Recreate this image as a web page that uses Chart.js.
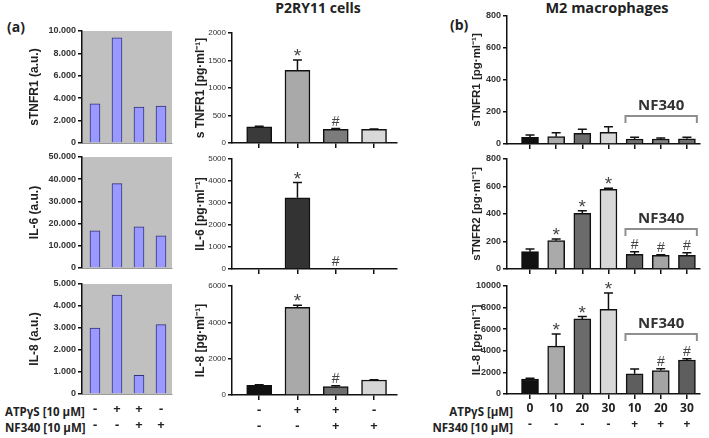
<!DOCTYPE html>
<html>
<head>
<meta charset="utf-8">
<script src="https://cdn.jsdelivr.net/npm/chart.js"></script>
<style>
body{margin:0;background:#fff;}
#fig{position:relative;width:709px;height:438px;overflow:hidden;font-family:"Open Sans",sans-serif;}
#fig canvas{position:absolute;}
.t{position:absolute;white-space:nowrap;font-weight:bold;color:#222;line-height:16px;}
</style>
</head>
<body>
<div id="fig">
  <div class="t" style="left:7px;top:19px;font-size:14px;">(a)</div>
  <div class="t" style="left:450px;top:17px;font-size:14px;">(b)</div>
  <div class="t" style="left:318px;top:0px;font-size:14px;transform:translateX(-50%);">P2RY11 cells</div>
  <div class="t" style="left:607px;top:0px;font-size:14.5px;transform:translateX(-50%);">M2 macrophages</div>
  <div class="t" style="left:5px;top:404px;font-size:11.5px;">ATPγS [10 µM]</div>
  <div class="t" style="left:5px;top:420px;font-size:11.5px;">NF340 [10 µM]</div>
  <div class="t" style="right:196px;top:404px;font-size:11.5px;">ATPγS [µM]</div>
  <div class="t" style="right:196px;top:420px;font-size:11.5px;">NF340 [10 µM]</div>
</div>

<script>
// (a) arbitrary units
const aTNFR1 = [3500, 9400, 3200, 3300];
const aIL6 = [16700, 38000, 18500, 14500];
const aIL8 = [3000, 4500, 850, 3150];
const atpSigns = ['-', '+', '+', '-'];
const nfSigns = ['-', '-', '+', '+'];

// P2RY11 cells
const pTNFR1 = [296, 1320, 250, 250];
const pTNFR1Err = [10, 190, 12, 6];
const pIL6 = [0, 3240, 0, 0];
const pIL6Err = [0, 690, 0, 0];
const pIL8 = [530, 4820, 460, 825];
const pIL8Err = [30, 120, 55, 20];
const pMarks = ['', '*', '#', ''];

// M2 macrophages
const mAtp = ['0', '10', '20', '30', '10', '20', '30'];
const mNf = ['-', '-', '-', '-', '+', '+', '+'];
const mTNFR1 = [42, 46, 67, 73, 31, 31, 33];
const mTNFR1Err = [14, 25, 25, 35, 11, 7, 9];
const mTNFR2 = [126, 206, 405, 580, 107, 100, 100];
const mTNFR2Err = [19, 12, 19, 7, 19, 3, 19];
const mTNFR2Marks = ['', '*', '*', '*', '#', '#', '#'];
const mIL8 = [1390, 4440, 6950, 7850, 1870, 2170, 3150];
const mIL8Err = [60, 1110, 220, 1500, 440, 160, 120];
const mIL8Marks = ['', '*', '*', '*', '', '#', '#'];

const fig = document.getElementById('fig');
const dots = v => String(v).replace(/\B(?=(\d{3})+(?!\d))/g, '.');

const bgPlugin = {
  id: 'bg',
  beforeDraw(c, a, o) {
    if (!o.color) return;
    const ca = c.chartArea, ctx = c.ctx;
    ctx.save();
    ctx.fillStyle = o.color;
    ctx.fillRect(ca.left, ca.top, ca.right - ca.left, ca.bottom - ca.top);
    ctx.restore();
  }
};

const errPlugin = {
  id: 'err',
  afterDatasetsDraw(c) {
    const ds = c.data.datasets[0];
    const meta = c.getDatasetMeta(0);
    const y = c.scales.y, ctx = c.ctx;
    ctx.save();
    meta.data.forEach((bar, i) => {
      const v = ds.data[i].y;
      const e = ds.errors ? ds.errors[i] : 0;
      const top = y.getPixelForValue(v + e);
      if (e) {
        ctx.strokeStyle = '#111';
        ctx.lineWidth = 1.5;
        ctx.beginPath();
        ctx.moveTo(bar.x, bar.y);
        ctx.lineTo(bar.x, top);
        ctx.moveTo(bar.x - 4.5, top);
        ctx.lineTo(bar.x + 4.5, top);
        ctx.stroke();
      }
      const m = ds.marks ? ds.marks[i] : '';
      if (m) {
        ctx.fillStyle = '#444';
        ctx.textAlign = 'center';
        ctx.textBaseline = 'alphabetic';
        if (m === '*') {
          ctx.font = '19px "Liberation Sans"';
          ctx.fillText(m, bar.x, top + 2);
        } else {
          ctx.font = '14px "Liberation Sans"';
          ctx.fillText(m, bar.x, top - 3);
        }
      }
    });
    ctx.restore();
  }
};

const bracketPlugin = {
  id: 'bracket',
  afterDraw(c, a, o) {
    if (!o.text) return;
    const x = c.scales.x, y = c.scales.y, ctx = c.ctx;
    const x0 = x.getPixelForValue(o.from), x1 = x.getPixelForValue(o.to);
    const yy = y.getPixelForValue(o.at);
    ctx.save();
    ctx.strokeStyle = '#8f8f8f';
    ctx.lineWidth = 2;
    ctx.beginPath();
    ctx.moveTo(x0, yy + 7);
    ctx.lineTo(x0, yy);
    ctx.lineTo(x1, yy);
    ctx.lineTo(x1, yy + 7);
    ctx.stroke();
    ctx.fillStyle = '#333';
    ctx.font = 'bold 15px "Open Sans"';
    ctx.textAlign = 'center';
    ctx.fillText(o.text, (x0 + x1) / 2, yy - 6);
    ctx.restore();
  }
};

function panel(o) {
  const cv = document.createElement('canvas');
  const top = o.top - 8;
  const yw = o.axis - o.left;
  cv.width = o.right - o.left + 4;
  cv.height = o.bottom - top + o.xh;
  cv.style.left = o.left + 'px';
  cv.style.top = top + 'px';
  fig.appendChild(cv);
  new Chart(cv, {
    type: 'bar',
    data: {
      datasets: [{
        data: o.values.map((v, i) => ({x: i, y: v})),
        errors: o.errors,
        marks: o.marks,
        backgroundColor: o.colors,
        borderColor: o.border || '#111',
        borderWidth: o.bw || 1.5,
        barThickness: o.barW
      }]
    },
    options: {
      responsive: false,
      animation: false,
      layout: {autoPadding: false, padding: {top: 8, right: 4, left: 0, bottom: 0}},
      plugins: {
        legend: {display: false},
        tooltip: {enabled: false},
        bg: {color: o.bg},
        bracket: o.bracket || {}
      },
      scales: {
        x: {
          type: 'linear', min: o.xmin, max: o.xmax, offset: false,
          afterBuildTicks: s => { s.ticks = o.values.map((v, i) => ({value: i})); },
          afterFit: s => { s.height = o.xh; },
          border: {color: o.xBorder || '#111', width: o.xbw || 1.5},
          grid: {drawOnChartArea: false, offset: false, tickLength: 5, tickColor: o.xTick || '#111', lineWidth: 1.5},
          ticks: {
            display: !!o.xLabels, autoSkip: false, maxRotation: 0, padding: 2,
            color: '#222',
            font: {family: '"Open Sans"', size: o.xFont || 13, weight: 'bold', lineHeight: 16 / (o.xFont || 13)},
            callback: (v, i) => o.xLabels ? o.xLabels.map(r => r[i]) : ''
          }
        },
        y: {
          min: 0, max: o.max,
          afterFit: s => { s.width = yw; },
          border: {color: '#111', width: 1.5},
          grid: {drawOnChartArea: false, tickLength: 4, tickColor: '#111', lineWidth: 1.5},
          ticks: {stepSize: o.step, font: o.tickFont, color: '#333', padding: 2, callback: o.fmt || (v => v)},
          title: {display: true, text: o.title, font: o.titleFont, color: '#222', padding: {top: o.titlePad, bottom: 0}}
        }
      }
    },
    plugins: [bgPlugin, errPlugin, bracketPlugin]
  });
}

// (a) column
const aBase = {
  left: 20, axis: 82, right: 172, xmin: -0.59, xmax: 3.5, barW: 10,
  colors: '#9999ff', border: '#333377', bw: 1, bg: '#c0c0c0',
  xBorder: '#9a9a9a', xbw: 1, xTick: 'transparent', fmt: dots,
  tickFont: {family: '"Liberation Sans"', size: 9, weight: 'bold'},
  titleFont: {family: '"Liberation Sans"', size: 12, weight: 'bold'}, titlePad: 7
};
panel({...aBase, top: 31, bottom: 143, xh: 9, values: aTNFR1, max: 10000, step: 2000, title: 'sTNFR1 (a.u.)'});
panel({...aBase, top: 157, bottom: 268, xh: 9, values: aIL6, max: 50000, step: 10000, title: 'IL-6 (a.u.)'});
panel({...aBase, top: 284, bottom: 394, xh: 44, values: aIL8, max: 5000, step: 1000, title: 'IL-8 (a.u.)',
  xLabels: [atpSigns, nfSigns]});

// P2RY11 column
const pBase = {
  left: 186, axis: 232, right: 397, xmin: -0.71, xmax: 3.6, barW: 25,
  tickFont: {family: '"Liberation Sans"', size: 8},
  titleFont: {family: '"Liberation Sans"', size: 12, weight: 'bold'}, titlePad: 7
};
panel({...pBase, top: 33, bottom: 143, xh: 9, values: pTNFR1, errors: pTNFR1Err, marks: pMarks,
  colors: ['#3a3a3a', '#a9a9a9', '#7c7c7c', '#d9d9d9'], max: 2000, step: 500, title: 's TNFR1 [pg·ml⁻¹]'});
panel({...pBase, top: 159, bottom: 269, xh: 9, values: pIL6, errors: pIL6Err, marks: pMarks,
  colors: ['#3a3a3a', '#333333', '#7c7c7c', '#d9d9d9'], max: 5000, step: 1000, title: 'IL-6 [pg·ml⁻¹]'});
panel({...pBase, top: 286, bottom: 395, xh: 44, values: pIL8, errors: pIL8Err, marks: pMarks,
  colors: ['#111111', '#a9a9a9', '#6e6e6e', '#d6d6d6'], max: 6000, step: 2000, title: 'IL-8 [pg·ml⁻¹]',
  xLabels: [atpSigns, nfSigns]});

// M2 macrophages column
const mBase = {
  left: 463, axis: 507, right: 700, xmin: -0.88, xmax: 6.5, barW: 17,
  tickFont: {family: '"Liberation Sans"', size: 9, weight: 'bold'},
  titleFont: {family: '"Liberation Sans"', size: 11.5, weight: 'bold'}, titlePad: 7
};
panel({...mBase, top: 16, bottom: 144, xh: 9, values: mTNFR1, errors: mTNFR1Err,
  colors: ['#111111', '#aaaaaa', '#6b6b6b', '#d8d8d8', '#6e6e6e', '#808080', '#6e6e6e'],
  max: 800, step: 200, title: 'sTNFR1 [pg·ml⁻¹]',
  bracket: {from: 3.65, to: 6.38, at: 175, text: 'NF340'}});
panel({...mBase, top: 159, bottom: 269, xh: 9, values: mTNFR2, errors: mTNFR2Err, marks: mTNFR2Marks,
  colors: ['#111111', '#aaaaaa', '#6b6b6b', '#d8d8d8', '#5e5e5e', '#a4a4a4', '#5e5e5e'],
  max: 800, step: 200, title: 'sTNFR2 [pg·ml⁻¹]',
  bracket: {from: 3.65, to: 6.38, at: 291, text: 'NF340'}});
panel({...mBase, top: 286, bottom: 394, xh: 44, values: mIL8, errors: mIL8Err, marks: mIL8Marks,
  colors: ['#111111', '#aaaaaa', '#6b6b6b', '#d8d8d8', '#5e5e5e', '#a4a4a4', '#5e5e5e'],
  max: 10000, step: 2000, title: 'IL-8 [pg·ml⁻¹]',
  bracket: {from: 3.65, to: 6.38, at: 5550, text: 'NF340'},
  xLabels: [mAtp, mNf], xFont: 12});
</script>
</body>
</html>
